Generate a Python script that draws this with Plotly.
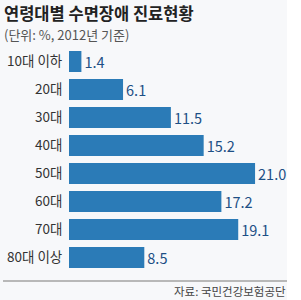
import plotly.graph_objects as go

categories = ["10대 이하", "20대", "30대", "40대", "50대", "60대", "70대", "80대 이상"]
values = [1.4, 6.1, 11.5, 15.2, 21.0, 17.2, 19.1, 8.5]
value_labels = ["1.4", "6.1", "11.5", "15.2", "21.0", "17.2", "19.1", "8.5"]

W, H = 301, 300
FONT = "Noto Sans CJK KR"

x0_px, x1_px = 69, 287
px_per_unit = 8.86
y_top_px, y_bot_px = 47.5, 271.5

fig = go.Figure(go.Bar(
    x=values, y=categories, orientation="h",
    marker=dict(color="#2b7bb7", line=dict(width=0)),
    width=0.75,
    text=value_labels, textposition="outside",
    textfont=dict(family=FONT, size=14.5, color="#1d4f85"),
    cliponaxis=False,
))

fig.update_layout(
    width=W, height=H,
    margin=dict(l=0, r=0, t=0, b=0),
    paper_bgcolor="white", plot_bgcolor="rgba(0,0,0,0)",
    showlegend=False,
    uniformtext=dict(mode=False),
    xaxis=dict(domain=[x0_px / W, x1_px / W], range=[0, (x1_px - x0_px) / px_per_unit],
               visible=False),
    yaxis=dict(domain=[1 - y_bot_px / H, 1 - y_top_px / H], range=[7.5, -0.5],
               type="category", showgrid=False, zeroline=False, showline=False,
               ticks="outside", ticklen=3, tickcolor="rgba(0,0,0,0)",
               tickfont=dict(family=FONT, size=13.5, color="#333333")),
    shapes=[
        dict(type="rect", xref="paper", yref="paper", x0=0, x1=287 / W, y0=0, y1=1,
             fillcolor="#f7f8fa", line=dict(width=0), layer="below"),
        dict(type="line", xref="paper", yref="paper", x0=3 / W, x1=287 / W,
             y0=1 - 281 / H, y1=1 - 281 / H, line=dict(color="#b8b8b8", width=2)),
    ],
    annotations=[
        dict(text="<b>연령대별 수면장애 진료현황</b>", xref="paper", yref="paper",
             x=2 / W, y=1 - 13 / H, xanchor="left", yanchor="middle", showarrow=False,
             font=dict(family=FONT, size=16.5, color="#222222")),
        dict(text="(단위: %, 2012년 기준)", xref="paper", yref="paper",
             x=2 / W, y=1 - 34.5 / H, xanchor="left", yanchor="middle", showarrow=False,
             font=dict(family=FONT, size=13, color="#555555")),
        dict(text="자료: 국민건강보험공단", xref="paper", yref="paper",
             x=288 / W, y=1 - 291 / H, xanchor="right", yanchor="middle", showarrow=False,
             font=dict(family=FONT, size=11.5, color="#444444")),
    ],
)

fig.write_html("out.html")
